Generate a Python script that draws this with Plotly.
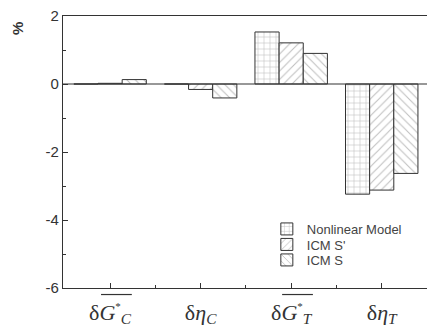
import plotly.graph_objects as go

categories = ["δG_C*", "δη_C", "δG_T*", "δη_T"]
tick_text = [
    "δ<i>G</i><sup><span style='font-size:11px'>*</span></sup><sub><i>C</i></sub>",
    "δ<i>η</i><sub><i>C</i></sub>",
    "δ<i>G</i><sup><span style='font-size:11px'>*</span></sup><sub><i>T</i></sub>",
    "δ<i>η</i><sub><i>T</i></sub>",
]
nonlinear = [0.0, 0.0, 1.53, -3.24]
icm_s_prime = [0.02, -0.16, 1.21, -3.12]
icm_s = [0.13, -0.41, 0.90, -2.63]
series_names = ["Nonlinear Model", "ICM S'", "ICM S"]
patterns = ["+", "/", "\\"]
y_ticks = [2, 0, -2, -4, -6]

x_idx = list(range(len(categories)))
legend_ids = ["legend", "legend2", "legend3"]
legend_y = [0.217, 0.160, 0.103]

fig = go.Figure()
for name, vals, pat, lg in zip(series_names, [nonlinear, icm_s_prime, icm_s], patterns, legend_ids):
    fig.add_trace(go.Bar(
        x=x_idx, y=vals, name=name, legend=lg,
        marker=dict(
            color="white",
            line=dict(color="#333333", width=1),
            pattern=dict(shape=pat, fgcolor="#808080", bgcolor="white", size=6, solidity=0.18),
        ),
    ))

# overlines over the G labels (decoration)
for i in [0, 2]:
    fig.add_shape(type="line", xref="x", yref="paper", x0=i - 0.1, x1=i + 0.24,
                  y0=-0.024, y1=-0.024, line=dict(color="#333333", width=1.2))

fig.add_hline(y=0, line=dict(color="#333333", width=1.2))

legend_common = dict(x=0.56, xanchor="left", yanchor="middle", bgcolor="rgba(0,0,0,0)",
                     font=dict(size=13, color="#444444"), itemwidth=30)

fig.update_layout(
    width=427, height=332,
    margin=dict(l=63, r=0, t=16, b=44, autoexpand=False),
    plot_bgcolor="white", paper_bgcolor="white",
    barmode="group", bargap=0.2, bargroupgap=0,
    font=dict(family="Liberation Sans, Arial", color="#333333"),
    showlegend=True,
    legend=dict(y=legend_y[0], **legend_common),
    legend2=dict(y=legend_y[1], **legend_common),
    legend3=dict(y=legend_y[2], **legend_common),
    xaxis=dict(
        range=[-0.52, 3.5], tickmode="array", tickvals=x_idx, ticktext=tick_text,
        ticks="inside", ticklen=5, tickcolor="#333333", automargin=False, ticklabelstandoff=4,
        minor=dict(tickmode="array", tickvals=[0.5, 1.5, 2.5], ticks="inside", ticklen=3, tickcolor="#333333"),
        showline=True, linecolor="#333333", linewidth=1.2, mirror=True,
        tickfont=dict(family="Liberation Serif, Times New Roman", size=22, color="#333333"),
        showgrid=False, zeroline=False,
    ),
    yaxis=dict(
        range=[-6, 2], tickmode="array", tickvals=y_ticks, ticktext=[str(v) for v in y_ticks],
        ticks="inside", ticklen=5, tickcolor="#333333", automargin=False,
        minor=dict(dtick=1, ticks="inside", ticklen=3, tickcolor="#333333"),
        showline=True, linecolor="#333333", linewidth=1.2, mirror=True,
        tickfont=dict(size=15, color="#333333"),
        showgrid=False, zeroline=False,
    ),
    annotations=[dict(text="<b>%</b>", xref="paper", yref="paper", x=-0.125, y=0.985,
                      xanchor="center", yanchor="top", textangle=-90, showarrow=False,
                      font=dict(size=15, color="#333333"))],
)

fig.write_html("out.html", config={"displayModeBar": False},
               post_script="document.body.style.margin='0';document.body.style.overflow='hidden';")
